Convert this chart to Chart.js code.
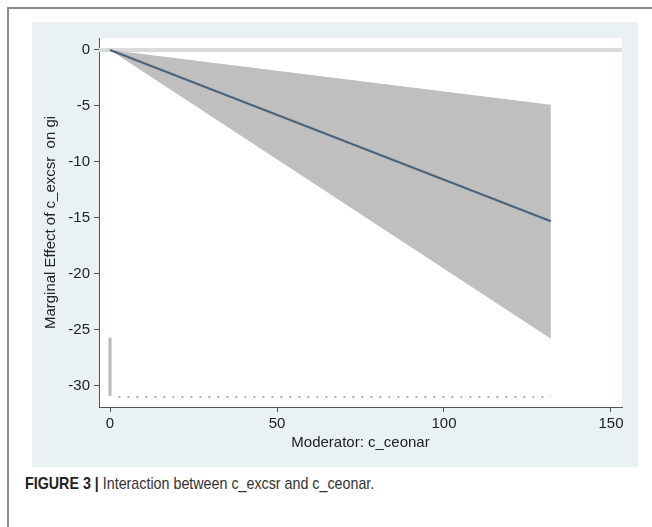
<!DOCTYPE html>
<html>
<head>
<meta charset="utf-8">
<script src="https://cdn.jsdelivr.net/npm/chart.js@4/dist/chart.umd.min.js"></script>
<style>
  html, body { margin:0; padding:0; background:#fff; width:652px; height:527px; overflow:hidden; }
  #frame { position:absolute; left:7px; top:7px; width:660px; height:540px;
           border-left:2px solid #8a8a8a; border-top:2px solid #8a8a8a; }
  #panel { position:absolute; left:32px; top:22px; width:606px; height:445px; background:#e9f1f3; }
  #caption { position:absolute; left:25px; top:474px; font-family:"Liberation Sans",Arial,sans-serif;
             font-size:17px; color:#333; white-space:nowrap; transform:scaleX(0.84); transform-origin:0 0; }
  #caption b { font-weight:bold; color:#222; }
</style>
</head>
<body>
<div id="frame"></div>
<div id="panel"><canvas id="c" width="606" height="445"></canvas></div>
<div id="caption"><b>FIGURE 3 |</b> Interaction between c_excsr and c_ceonar.</div>
<script>
// ---- data ----
const moderator   = [0, 132];          // c_ceonar range of the estimate
const effect      = [0, -15.3];        // marginal effect line
const upperCI     = [0, -4.9];         // upper confidence bound
const lowerCI     = [0, -25.8];        // lower confidence bound
const refLineY    = 0;                 // reference line at zero
const histBarX    = [0, 0];            // tall histogram bar at moderator 0
const histBarY    = [-30.9, -25.7];
const rugX        = [2.5, 132];        // tiny histogram bars (dotted)
const rugY        = [-31, -31];
const xTicks      = [0, 50, 100, 150];
const yTicks      = [0, -5, -10, -15, -20, -25, -30];
const xRange      = [-3.3, 153.3];
const yRange      = [-31.9, 1.07];

const pts = (xs, ys) => xs.map((x, i) => ({x: x, y: ys[i]}));
const tickFont = {family: "'Liberation Sans', Arial, sans-serif", size: 15};

const whiteArea = {
  id: 'whiteArea',
  beforeDraw(chart) {
    const {ctx, chartArea: a} = chart;
    ctx.save();
    ctx.fillStyle = '#ffffff';
    ctx.fillRect(a.left, a.top, a.right - a.left, a.bottom - a.top);
    ctx.restore();
  }
};

new Chart(document.getElementById('c'), {
  type: 'scatter',
  data: {
    datasets: [
      { order: 1, data: pts(moderator, effect), showLine: true, borderColor: '#4b6279', borderWidth: 2, pointRadius: 0 },
      { order: 5, data: pts(xRange, [refLineY, refLineY]), showLine: true, borderColor: '#dadada', borderWidth: 4, pointRadius: 0 },
      { order: 4, data: pts(moderator, upperCI), showLine: true, borderColor: 'rgba(0,0,0,0)', borderWidth: 0, pointRadius: 0, fill: false },
      { order: 3, data: pts(moderator, lowerCI), showLine: true, borderColor: 'rgba(0,0,0,0)', borderWidth: 0, pointRadius: 0,
        fill: { target: 2 }, backgroundColor: '#bfbfbf' },
      { order: 2, data: pts(histBarX, histBarY), showLine: true, borderColor: '#b8b8b8', borderWidth: 3, pointRadius: 0 },
      { order: 2, data: pts(rugX, rugY), showLine: true, borderColor: '#b0b0b0', borderWidth: 2, borderDash: [2, 7], pointRadius: 0 }
    ]
  },
  options: {
    responsive: false,
    animation: false,
    layout: { padding: { left: 0, top: 16, right: 16, bottom: 0 } },
    plugins: { legend: { display: false }, tooltip: { enabled: false } },
    scales: {
      x: {
        type: 'linear', min: xRange[0], max: xRange[1],
        afterBuildTicks: s => { s.ticks = xTicks.map(v => ({value: v})); },
        afterFit: s => { s.height = 60; },
        grid: { drawOnChartArea: false, drawTicks: true, tickLength: 5, color: '#555' },
        border: { display: true, color: '#555', width: 1 },
        ticks: { font: tickFont, color: '#222', padding: 3, maxRotation: 0 },
        title: { display: true, text: 'Moderator: c_ceonar', font: tickFont, color: '#222', padding: { top: 0, bottom: 15 } }
      },
      y: {
        type: 'linear', min: yRange[0], max: yRange[1],
        afterBuildTicks: s => { s.ticks = yTicks.map(v => ({value: v})); },
        afterFit: s => { s.width = 67; },
        grid: { drawOnChartArea: false, drawTicks: true, tickLength: 5, color: '#555' },
        border: { display: true, color: '#555', width: 1 },
        ticks: { font: tickFont, color: '#222', padding: 4 },
        title: { display: true, text: 'Marginal Effect of c_excsr  on gi', font: tickFont, color: '#222', padding: { top: 10, bottom: 0 } }
      }
    }
  },
  plugins: [whiteArea]
});
</script>
</body>
</html>
